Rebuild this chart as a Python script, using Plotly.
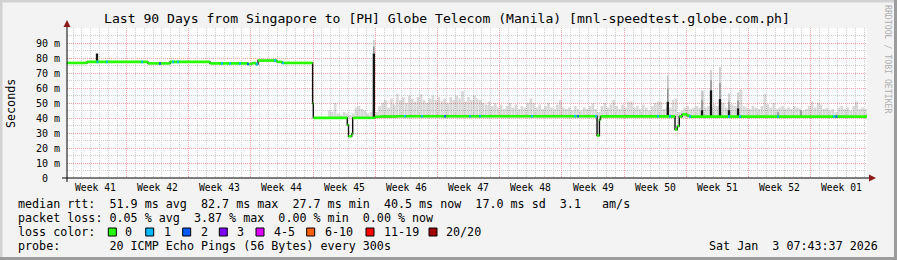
import numpy as np
import pandas as pd
import plotly.graph_objects as go

# ---------------- data ----------------
START = pd.Timestamp("2025-10-05 07:43:37")
END = pd.Timestamp("2026-01-03 07:43:37")

title_text = "Last 90 Days from Singapore to [PH] Globe Telecom (Manila) [mnl-speedtest.globe.com.ph]"

# median rtt as steps: start of step (days after START) and value (ms)
median_day = [0.00, 2.25, 9.11, 11.59, 16.09, 20.36, 20.81, 21.26, 21.49, 23.62, 24.19,
              27.63, 27.71, 31.53, 31.67, 32.03, 32.14, 34.65, 35.33, 37.13,
              59.63, 59.90, 60.02, 68.40, 68.66, 68.88, 69.19, 69.75, 70.09]
median_ms = [76.7, 77.4, 76.4, 77.4, 76.4, 76.0, 76.6, 75.9, 78.3, 77.4, 76.7,
             49.7, 40.1, 35.3, 27.8, 29.3, 40.1, 40.8, 41.0, 41.2,
             28.3, 38.9, 41.1, 32.3, 34.6, 41.0, 42.4, 41.6, 40.9]

# smoke (ping spread) top in ms, 8-hour bins starting at day 29 1/3
smoke_first_day = 29 + 1 / 3
smoke_base_ms = 40.0
smoke_top_ms = [
    45, 44, 50, 43, 42, 44, 43, 42, 43, 47, 48, 46, 45, 43, 44, 45,
    44, 48, 50, 52, 47, 53, 49, 56,
    52, 54, 50, 55, 53, 51, 54, 56, 52, 50, 53, 55, 52, 54, 51, 53, 50, 54, 52, 55, 53, 58, 51, 54, 52,
    55, 53, 52, 50, 49, 51, 48, 50, 47, 49, 46, 48, 50, 47, 49, 46, 48, 47, 50, 53, 50,
    47, 49, 46, 48, 50, 47, 46, 49,
    52, 47,
    46, 47, 45, 48, 46, 45, 47, 46, 48, 50,
    46, 44,
    48, 50, 47, 49, 52, 48, 46, 49, 47, 51,
    51,
    47, 48, 46, 49, 47, 45, 48, 50, 51,
    51,
    46, 47, 47, 52, 53, 44, 45, 47, 48, 46, 47, 48, 47, 58, 47, 48,
    47, 49, 48, 47, 50, 47, 49, 49, 48, 47, 59,
    48, 47, 46, 48, 47, 46, 48, 56, 49, 47, 50, 46, 47, 48, 46, 47, 46, 48, 47, 46, 45,
    46, 48, 51, 47, 50, 49, 46, 47, 45, 46, 44, 47, 48, 46, 47, 45, 48, 51, 46, 47, 46,
]

# dense (dark) smoke spikes
spike_day = [3.375, 34.52, 67.59, 71.44, 72.45, 73.46, 74.47, 75.49]
spike_lo = [77.4, 40.1, 41.0, 41.0, 41.0, 41.0, 41.0, 41.0]
spike_hi = [83.0, 83.0, 50.8, 45.2, 58.5, 52.6, 45.2, 46.4]
spike_top = [83.0, 92.0, 68.5, 58.5, 72.0, 74.0, 56.4, 57.0]

# faint dark-gray marks
mark_day = [79.99, 82.57]
mark_hi = [44.0, 45.2]

# packet loss occurrences (day, lost pings)
loss_day = [3.43, 4.50, 8.44, 10.46, 11.93, 12.49, 17.44, 18.34, 19.46, 20.36, 21.37, 23.40,
            24.30, 38.03, 39.94, 42.53, 45.34, 46.46, 52.31, 57.15, 57.49, 59.51, 66.49,
            67.84, 70.09, 74.47, 75.71, 79.99, 86.29, 86.57]
loss_count = [1, 1, 1, 2, 1, 1, 1, 1, 1, 2, 1, 1,
              1, 1, 1, 2, 1, 1, 1, 1, 2, 1, 1,
              1, 1, 1, 1, 1, 1, 2]

week_labels = ["Week 41", "Week 42", "Week 43", "Week 44", "Week 45", "Week 46", "Week 47",
               "Week 48", "Week 49", "Week 50", "Week 51", "Week 52", "Week 01"]
first_week_label_time = pd.Timestamp("2025-10-08 12:00")
first_week_line = pd.Timestamp("2025-10-12 00:00")

y_tick_vals = [0, 10, 20, 30, 40, 50, 60, 70, 80, 90]
y_tick_text = ["0\u00a0\u00a0", "10 m", "20 m", "30 m", "40 m", "50 m", "60 m", "70 m", "80 m", "90 m"]

loss_legend_labels = ["0", "1", "2", "3", "4-5", "6-10", "11-19", "20/20"]
loss_legend_colors = ["#26ff00", "#00b8ff", "#0059ff", "#7e00ff", "#dd00ff", "#ff5e00", "#ff0000", "#a10000"]
loss_color_by_count = {0: "#26ff00", 1: "#00b8ff", 2: "#0059ff", 3: "#7e00ff"}

stat_line1 = "median rtt:  51.9 ms avg  82.7 ms max  27.7 ms min  40.5 ms now  17.0 ms sd  3.1   am/s"
stat_line2 = "packet loss: 0.05 % avg  3.87 % max  0.00 % min  0.00 % now"
stat_line3 = "loss color:"
stat_line4 = "probe:       20 ICMP Echo Pings (56 Bytes) every 300s"
date_text = "Sat Jan  3 07:43:37 2026"
side_text = "RRDTOOL / TOBI OETIKER"

# ---------------- helpers ----------------
W, H = 897, 260
L, R, T, B = 67, 30, 28, 82
PW, PH = W - L - R, H - T - B


def px(x):
    return (x - L) / PW


def py(y):
    return (H - B - y) / PH


def tday(d):
    return START + pd.to_timedelta(d, unit="D")


def nb(s):
    return s.replace(" ", "\u00a0")


MONO = "DejaVu Sans Mono"
DAY_MS = 86400000

fig = go.Figure()

# smoke
smoke_x = [tday(smoke_first_day + (k + 0.5) / 3) for k in range(len(smoke_top_ms))]
fig.add_trace(go.Bar(
    x=smoke_x, y=[v - smoke_base_ms for v in smoke_top_ms], base=smoke_base_ms,
    width=DAY_MS / 3 * 0.9, marker=dict(color="rgba(0,0,0,0.15)", line=dict(width=0)),
    hoverinfo="skip", showlegend=False))

# spikes: gray halo, darker gray lower halo, black core
sp_x = [tday(d) for d in spike_day]
fig.add_trace(go.Bar(
    x=sp_x, y=[t - h for t, h in zip(spike_top, spike_hi)], base=spike_hi,
    width=DAY_MS * 0.15, marker=dict(color="#bdbdbd", line=dict(width=0)),
    hoverinfo="skip", showlegend=False))
fig.add_trace(go.Bar(
    x=sp_x, y=[(t - h) / 2 for t, h in zip(spike_top, spike_hi)], base=spike_hi,
    width=DAY_MS * 0.15, marker=dict(color="#8a8a8a", line=dict(width=0)),
    hoverinfo="skip", showlegend=False))
fig.add_trace(go.Bar(
    x=sp_x, y=[h - l for h, l in zip(spike_hi, spike_lo)], base=spike_lo,
    width=DAY_MS * 0.26, marker=dict(color="#151515", line=dict(width=0)),
    hoverinfo="skip", showlegend=False))
fig.add_trace(go.Bar(
    x=[tday(d) for d in mark_day], y=[h - 41.0 for h in mark_hi], base=41.0,
    width=DAY_MS * 0.12, marker=dict(color="#707070", line=dict(width=0)),
    hoverinfo="skip", showlegend=False))

# median: black step transitions
step_x = [tday(d) for d in median_day] + [END]
step_y = median_ms + [median_ms[-1]]
fig.add_trace(go.Scatter(x=step_x, y=step_y, mode="lines", line=dict(color="#101010", width=1.4, shape="hv"),
                         hoverinfo="skip", showlegend=False))

# median: green level segments
gx, gy = [], []
for i, v in enumerate(median_ms):
    gx += [step_x[i], step_x[i + 1], None]
    gy += [v, v, None]
fig.add_trace(go.Scatter(x=gx, y=gy, mode="lines", line=dict(color="#26ff00", width=2.6),
                         hoverinfo="skip", showlegend=False))

# loss colour bits on the median line
med_arr = np.array(median_day)
for n, col in loss_color_by_count.items():
    lx, ly = [], []
    for d, c in zip(loss_day, loss_count):
        if c != n:
            continue
        v = median_ms[int(np.searchsorted(med_arr, d, side="right")) - 1]
        lx += [tday(d - 0.1), tday(d + 0.1), None]
        ly += [v, v, None]
    if lx:
        fig.add_trace(go.Scatter(x=lx, y=ly, mode="lines", line=dict(color=col, width=2.6),
                                 hoverinfo="skip", showlegend=False))

# ---------------- axes ----------------
sunday_lines = [first_week_line + pd.Timedelta(days=7 * k) for k in range(12)]
fig.update_xaxes(
    type="date", range=[START, END], tickvals=sunday_lines, showticklabels=False, ticks="",
    showgrid=True, gridcolor="#f2a0a0", griddash="1px,1px", gridwidth=1,
    minor=dict(dtick=DAY_MS, tick0="2025-10-12", showgrid=True, gridcolor="#cfcfcf",
               griddash="1px,1px", gridwidth=1, ticks=""),
    showline=False, zeroline=False, fixedrange=True)
fig.update_yaxes(
    range=[0, 100], tickvals=y_tick_vals, ticktext=y_tick_text, ticks="",
    ticklabelstandoff=6,
    tickfont=dict(family=MONO, size=10, color="#000000"),
    showgrid=True, gridcolor="#f2a0a0", griddash="1px,1px", gridwidth=1,
    minor=dict(dtick=5, showgrid=True, gridcolor="#cfcfcf", griddash="1px,1px", gridwidth=1, ticks=""),
    showline=False, zeroline=False, fixedrange=True)

# ---------------- annotations ----------------
ann = []
ann.append(dict(text=nb(title_text), x=px(447), y=py(19), xanchor="center", yanchor="middle",
                font=dict(family=MONO, size=13.1, color="#000000")))
for k, lab in enumerate(week_labels):
    t = first_week_label_time + pd.Timedelta(days=7 * k)
    ann.append(dict(text=nb(lab), x=t, xref="x", y=py(187.5), xanchor="center", yanchor="middle",
                    font=dict(family=MONO, size=9.7, color="#000000")))
ann.append(dict(text="Seconds", x=px(11), y=py(103), textangle=-90, xanchor="center", yanchor="middle",
                font=dict(family=MONO, size=11.7, color="#000000")))
ann.append(dict(text=nb(side_text), x=px(888), y=py(59), textangle=90, xanchor="center", yanchor="middle",
                font=dict(family=MONO, size=8.2, color="#b0b0b0")))
for yy, s in [(204, stat_line1), (218.3, stat_line2), (232, stat_line3), (246, stat_line4)]:
    ann.append(dict(text=nb(s), x=px(16), y=py(yy), xanchor="left", yanchor="middle",
                    font=dict(family=MONO, size=11.7, color="#000000")))
ann.append(dict(text=nb(date_text), x=px(880), y=py(246), xanchor="right", yanchor="middle",
                font=dict(family=MONO, size=11.7, color="#000000")))

sq_x = [108.3, 145.7, 182.7, 219.3, 256.0, 306.7, 366.0, 429.0]
lab_x = [123.3, 161.7, 198.7, 235.3, 272.0, 322.7, 382.0, 444.0]
shapes = []
for xs, xl, lab, col in zip(sq_x, lab_x, loss_legend_labels, loss_legend_colors):
    shapes.append(dict(type="rect", xref="paper", yref="paper", x0=px(xs), x1=px(xs + 8),
                       y0=py(236), y1=py(228), fillcolor=col, line=dict(color="#000000", width=1)))
    ann.append(dict(text=nb(lab), x=px(xl), y=py(232), xanchor="left", yanchor="middle",
                    font=dict(family=MONO, size=11.7, color="#000000")))
for a in ann:
    a.setdefault("xref", "paper")
    a["yref"] = "paper"
    a["showarrow"] = False

# axis lines and arrows
shapes.append(dict(type="line", xref="paper", yref="paper", x0=px(62), x1=px(870), y0=py(178), y1=py(178),
                   line=dict(color="#000000", width=1)))
shapes.append(dict(type="line", xref="paper", yref="paper", x0=px(67), x1=px(67), y0=py(182), y1=py(25),
                   line=dict(color="#000000", width=1)))
shapes.append(dict(type="path", xref="paper", yref="paper",
                   path=f"M {px(876)},{py(178)} L {px(869)},{py(174.5)} L {px(869)},{py(181.5)} Z",
                   fillcolor="#8b1a1a", line=dict(width=0)))
shapes.append(dict(type="path", xref="paper", yref="paper",
                   path=f"M {px(67)},{py(20)} L {px(63.5)},{py(27)} L {px(70.5)},{py(27)} Z",
                   fillcolor="#8b1a1a", line=dict(width=0)))
# bevel border
shapes.append(dict(type="rect", xref="paper", yref="paper", x0=px(0), x1=px(W), y0=py(0), y1=py(2.5),
                   fillcolor="#d2d2d2", line=dict(width=0)))
shapes.append(dict(type="rect", xref="paper", yref="paper", x0=px(0), x1=px(2.5), y0=py(0), y1=py(H),
                   fillcolor="#d2d2d2", line=dict(width=0)))
shapes.append(dict(type="rect", xref="paper", yref="paper", x0=px(0), x1=px(W), y0=py(257), y1=py(H),
                   fillcolor="#9c9c9c", line=dict(width=0)))
shapes.append(dict(type="rect", xref="paper", yref="paper", x0=px(894), x1=px(W), y0=py(0), y1=py(H),
                   fillcolor="#9c9c9c", line=dict(width=0)))

fig.update_layout(
    width=W, height=H, autosize=False,
    margin=dict(l=L, r=R, t=T, b=B, pad=0),
    paper_bgcolor="#f3f3f3", plot_bgcolor="#ffffff",
    barmode="overlay", showlegend=False,
    annotations=ann, shapes=shapes,
    font=dict(family=MONO, color="#000000"),
)

fig.write_html("out.html", config={"displayModeBar": False, "staticPlot": True})
